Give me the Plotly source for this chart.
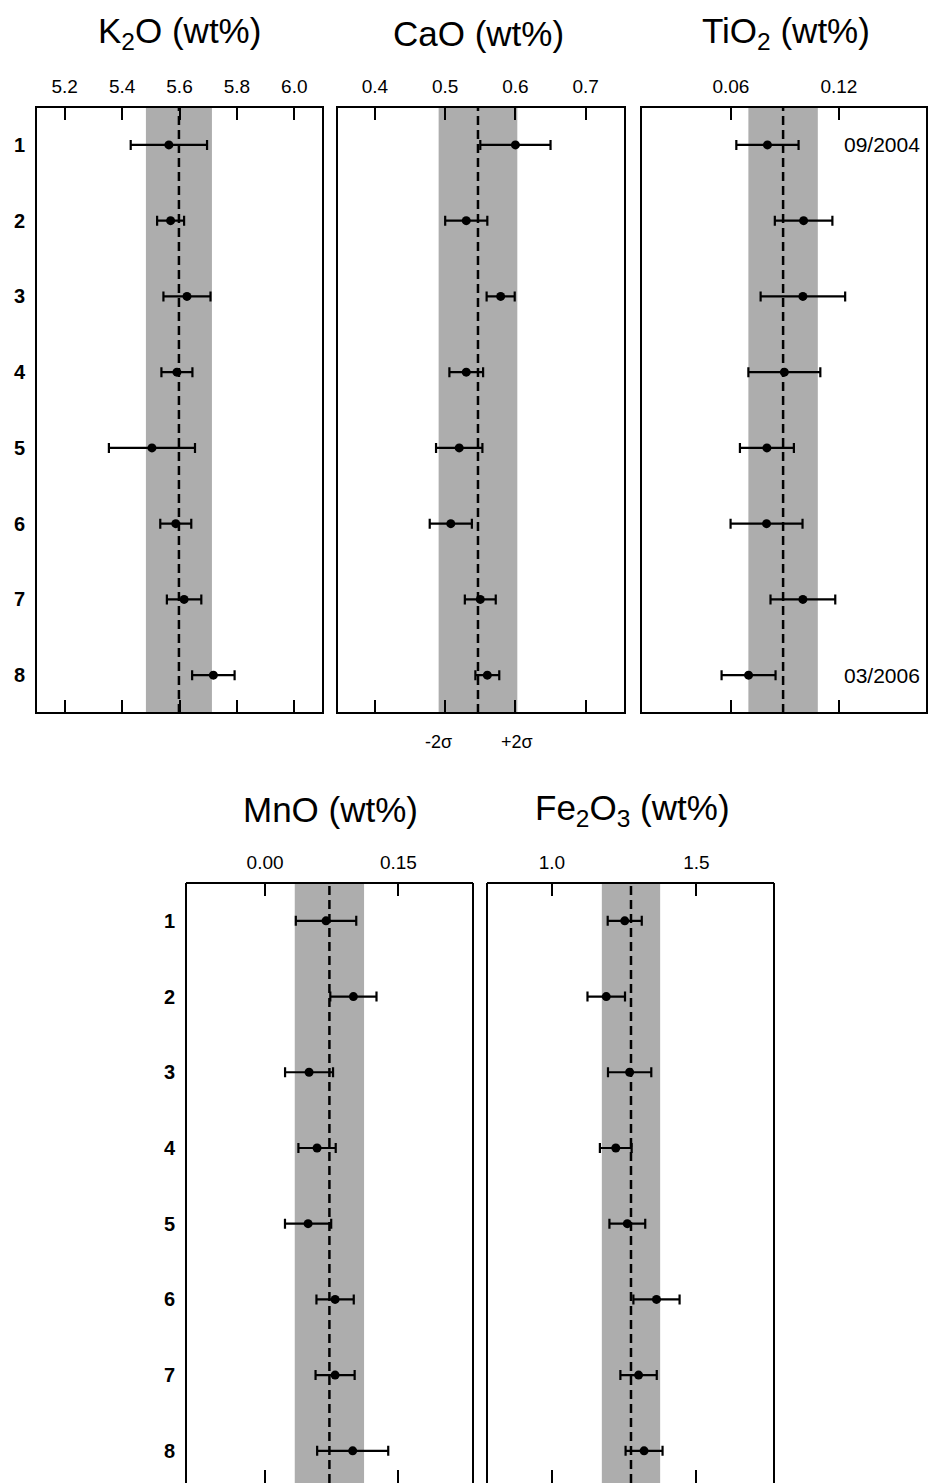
import plotly.graph_objects as go

# ---------------- data ----------------
rows = [1, 2, 3, 4, 5, 6, 7, 8]
row_labels = ["1", "2", "3", "4", "5", "6", "7", "8"]

panels = ["K2O", "CaO", "TiO2", "MnO", "Fe2O3"]
titles = ["K<sub>2</sub>O (wt%)", "CaO (wt%)", "TiO<sub>2</sub> (wt%)",
          "MnO (wt%)", "Fe<sub>2</sub>O<sub>3</sub> (wt%)"]

k2o_val = [5.563, 5.569, 5.626, 5.591, 5.504, 5.587, 5.616, 5.718]
k2o_err = [0.133, 0.047, 0.082, 0.054, 0.150, 0.054, 0.060, 0.074]

cao_val = [0.600, 0.530, 0.579, 0.530, 0.520, 0.508, 0.550, 0.560]
cao_err = [0.050, 0.030, 0.020, 0.024, 0.033, 0.030, 0.022, 0.017]

tio2_val = [0.0803, 0.1004, 0.1000, 0.0897, 0.0800, 0.0798, 0.1000, 0.0698]
tio2_err = [0.0173, 0.0160, 0.0235, 0.0200, 0.0150, 0.0200, 0.0180, 0.0150]

mno_val = [0.0686, 0.0994, 0.0495, 0.0585, 0.0484, 0.0788, 0.0788, 0.0986]
mno_err = [0.034, 0.026, 0.027, 0.021, 0.026, 0.021, 0.022, 0.040]

fe2o3_val = [1.252, 1.188, 1.269, 1.221, 1.261, 1.362, 1.300, 1.319]
fe2o3_err = [0.059, 0.065, 0.075, 0.055, 0.062, 0.080, 0.063, 0.064]

# reference value (dashed line) and 2-sigma half width (shaded band)
ref_mean = [5.598, 0.5467, 0.0890, 0.0724, 1.2737]
ref_2sigma = [0.115, 0.056, 0.0193, 0.039, 0.101]

tick_vals = [[5.2, 5.4, 5.6, 5.8, 6.0], [0.4, 0.5, 0.6, 0.7], [0.06, 0.12],
             [0.00, 0.15], [1.0, 1.5]]
tick_text = [["5.2", "5.4", "5.6", "5.8", "6.0"], ["0.4", "0.5", "0.6", "0.7"],
             ["0.06", "0.12"], ["0.00", "0.15"], ["1.0", "1.5"]]

date_labels = ["09/2004", "03/2006"]
sigma_labels = ["-2\u03c3", "+2\u03c3"]

values = [k2o_val, cao_val, tio2_val, mno_val, fe2o3_val]
errors = [k2o_err, cao_err, tio2_err, mno_err, fe2o3_err]

# ---------------- layout geometry ----------------
W, H = 929, 1483
x_ranges = [[5.1, 6.1], [0.346, 0.756], [0.010, 0.169], [-0.089, 0.234], [0.775, 1.769]]
x_px = [(36, 323), (337, 625), (641, 927), (186, 473), (487, 774)]
y_px = [(107, 713), (107, 713), (107, 713), (883, H), (883, H)]
y_ranges = [[8.5, 0.5], [8.5, 0.5], [8.5, 0.5], [8.425, 0.5], [8.425, 0.5]]

FONT = "Liberation Sans, Arial, sans-serif"

fig = go.Figure()
shapes = []
annotations = []
layout_axes = {}

for i in range(5):
    n = i + 1
    xa = "x" if n == 1 else f"x{n}"
    ya = "y" if n == 1 else f"y{n}"
    fig.add_trace(go.Scatter(
        x=values[i], y=rows, mode="markers",
        marker=dict(color="black", size=9),
        error_x=dict(type="data", array=errors[i], visible=True,
                     color="black", thickness=2.2, width=5),
        xaxis=xa, yaxis=ya, showlegend=False, hoverinfo="x+y"))

    layout_axes[f"xaxis{'' if n == 1 else n}"] = dict(
        domain=[x_px[i][0] / W, x_px[i][1] / W],
        range=x_ranges[i], side="top", anchor=ya,
        showgrid=False, zeroline=False, showline=False,
        ticks="inside", ticklen=13, tickwidth=2, tickcolor="black",
        mirror="ticks", tickvals=tick_vals[i], ticktext=tick_text[i],
        tickfont=dict(family=FONT, size=19, color="black"),
        ticklabelstandoff=9, fixedrange=True)
    layout_axes[f"yaxis{'' if n == 1 else n}"] = dict(
        domain=[1 - y_px[i][1] / H, 1 - y_px[i][0] / H],
        range=y_ranges[i], anchor=xa,
        showgrid=False, zeroline=False, showline=False, ticks="",
        tickvals=rows, ticktext=[f"<b>{t}</b>" for t in row_labels],
        showticklabels=(n in (1, 4)),
        tickfont=dict(family=FONT, size=20, color="black"),
        ticklabelstandoff=10, fixedrange=True)

    # shaded 2-sigma band
    shapes.append(dict(type="rect", xref=xa, yref=f"{ya} domain",
                       x0=ref_mean[i] - ref_2sigma[i], x1=ref_mean[i] + ref_2sigma[i],
                       y0=0, y1=1, fillcolor="#adadad", line=dict(width=0),
                       layer="below"))
    # dashed reference line
    shapes.append(dict(type="line", xref=xa, yref=f"{ya} domain",
                       x0=ref_mean[i], x1=ref_mean[i], y0=0, y1=1,
                       line=dict(color="black", width=2.5, dash="9px,5px"),
                       layer="above"))
    # frame
    if n <= 3:
        shapes.append(dict(type="rect", xref=f"{xa} domain", yref=f"{ya} domain",
                           x0=0, x1=1, y0=0, y1=1,
                           line=dict(color="black", width=2), layer="above"))
    else:
        for (a0, b0, a1, b1) in [(0, 0, 0, 1), (0, 1, 1, 1), (1, 1, 1, 0)]:
            shapes.append(dict(type="line", xref=f"{xa} domain", yref=f"{ya} domain",
                               x0=a0, y0=b0, x1=a1, y1=b1,
                               line=dict(color="black", width=2), layer="above"))

# titles
title_pos = [(179, 33), (478, 33), (786, 33), (330, 810), (632, 810)]
for t, (tx, ty) in zip(titles, title_pos):
    annotations.append(dict(text=t, xref="paper", yref="paper",
                            x=tx / W, y=1 - ty / H, xanchor="center", yanchor="middle",
                            showarrow=False,
                            font=dict(family=FONT, size=35, color="black")))

# date labels in TiO2 panel
annotations.append(dict(text=date_labels[0], xref="paper", yref="y3",
                        x=922 / W, y=rows[0], xanchor="right", yanchor="middle",
                        showarrow=False, font=dict(family=FONT, size=21, color="black")))
annotations.append(dict(text=date_labels[1], xref="paper", yref="y3",
                        x=922 / W, y=rows[-1], xanchor="right", yanchor="middle",
                        showarrow=False, font=dict(family=FONT, size=21, color="black")))

# sigma labels under CaO band
for k, lab in enumerate(sigma_labels):
    sgn = -1 if k == 0 else 1
    annotations.append(dict(text=lab, xref="x2", yref="paper",
                            x=ref_mean[1] + sgn * ref_2sigma[1], y=1 - 742 / H,
                            xanchor="center", yanchor="middle", showarrow=False,
                            font=dict(family=FONT, size=18, color="black")))

fig.update_layout(
    width=W, height=H, margin=dict(l=0, r=0, t=0, b=0),
    paper_bgcolor="white", plot_bgcolor="white",
    shapes=shapes, annotations=annotations, **layout_axes)

fig.write_html("out.html", config={"displayModeBar": False},
               post_script="document.body.style.margin='0';document.body.style.overflow='hidden';")
